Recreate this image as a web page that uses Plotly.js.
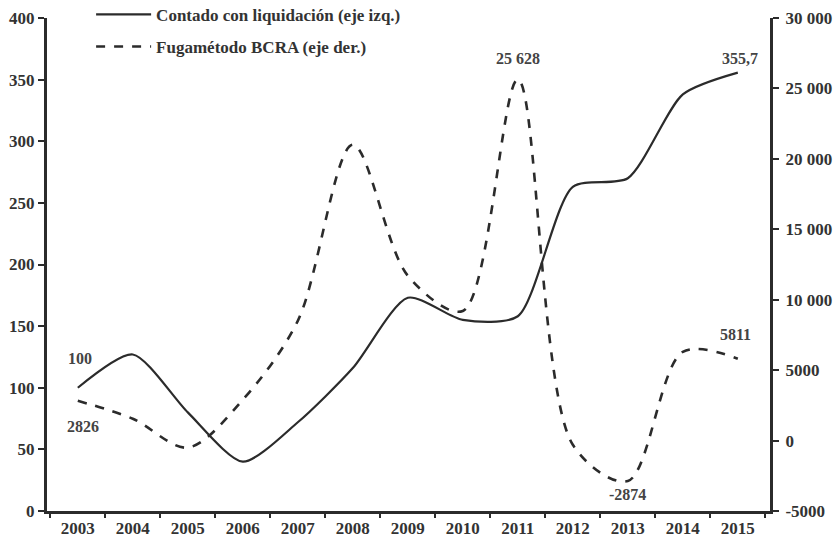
<!DOCTYPE html>
<html>
<head>
<meta charset="utf-8">
<script src="https://cdn.plot.ly/plotly-3.0.1.min.js"></script>
<style>
  html, body { margin: 0; padding: 0; background: #fff; }
  #plot { width: 837px; height: 540px; }
</style>
</head>
<body>
<div id="plot"></div>
<script>
// Years on the x axis
var years = [2003, 2004, 2005, 2006, 2007, 2008, 2009, 2010, 2011, 2012, 2013, 2014, 2015];

// Contado con liquidación (left axis, 2003 = 100)
var ccl = [100, 127, 80, 40, 72, 116, 173, 155, 158, 263, 270, 338, 355.7];

// Fuga método BCRA (right axis, millones de US$)
var fuga = [2826, 1550, -500, 2900, 8500, 21000, 11700, 9200, 25628, -300, -2874, 6300, 5811];

// Right axis tick labels
var rightTicks = [-5000, 0, 5000, 10000, 15000, 20000, 25000, 30000];
var rightLabels = ['-5000', '0', '5000', '10 000', '15 000', '20 000', '25 000', '30 000'];

var ink = '#2b2b2b';
var serif = 'Liberation Serif, DejaVu Serif, serif';

var trace1 = {
    x: years,
    y: ccl,
    name: 'Contado con liquidación (eje izq.)',
    type: 'scatter',
    mode: 'lines',
    line: { color: ink, width: 2.2, shape: 'spline', smoothing: 0.7 },
    legendgroup: 'a',
    yaxis: 'y'
};

var trace2 = {
    x: years,
    y: fuga,
    name: 'Fugamétodo BCRA (eje der.)',
    type: 'scatter',
    mode: 'lines',
    line: { color: ink, width: 2.6, dash: 'dash', shape: 'spline', smoothing: 0.9 },
    legendgroup: 'b',
    yaxis: 'y2'
};

// value labels
var labelFont = { family: serif, size: 16, color: '#444', weight: 'bold' };
function label(text, x, y, yref) {
    return { text: text, x: x, y: y, xref: 'x', yref: yref, showarrow: false, font: labelFont };
}

var tickFont = { family: serif, size: 17, color: '#333', weight: 'bold' };

var layout = {
    width: 837,
    height: 540,
    margin: { l: 47, r: 67, t: 18, b: 29, autoexpand: false },
    paper_bgcolor: '#fff',
    plot_bgcolor: '#fff',
    font: { family: serif, color: ink },
    showlegend: true,
    legend: {
        x: 0.061, y: 1.043, xanchor: 'left', yanchor: 'top',
        bgcolor: 'rgba(0,0,0,0)',
        itemwidth: 55,
        tracegroupgap: 7,
        font: { family: serif, size: 17, color: '#333', weight: 'bold' }
    },
    xaxis: {
        range: [2002.44, 2015.585],
        tickvals: years,
        ticktext: years.map(String),
        ticks: '',
        showgrid: false,
        zeroline: false,
        showline: true,
        linewidth: 3,
        linecolor: ink,
        tickfont: tickFont,
        minor: { tick0: 2003.5, dtick: 1, ticks: 'outside', ticklen: 4, tickwidth: 2, tickcolor: ink }
    },
    yaxis: {
        range: [0, 400],
        dtick: 50,
        ticks: 'outside',
        ticklen: 6,
        tickwidth: 2,
        tickcolor: ink,
        showgrid: false,
        zeroline: false,
        showline: true,
        linewidth: 3,
        linecolor: ink,
        tickfont: tickFont
    },
    yaxis2: {
        range: [-5000, 30000],
        overlaying: 'y',
        side: 'right',
        tickvals: rightTicks,
        ticktext: rightLabels,
        ticks: 'outside',
        ticklen: 6,
        tickwidth: 2,
        tickcolor: ink,
        ticklabelstandoff: 3,
        showgrid: false,
        zeroline: false,
        showline: true,
        linewidth: 3,
        linecolor: ink,
        tickfont: tickFont
    },
    annotations: [
        label('100', 2003.04, 124, 'y'),
        label('2826', 2003.1, 990, 'y2'),
        label('25 628', 2011.0, 27140, 'y2'),
        label('355,7', 2015.04, 367, 'y'),
        label('5811', 2014.95, 7510, 'y2'),
        label('-2874', 2013.0, -3830, 'y2')
    ]
};

Plotly.newPlot('plot', [trace1, trace2], layout, { displayModeBar: false, staticPlot: true });
</script>
</body>
</html>
